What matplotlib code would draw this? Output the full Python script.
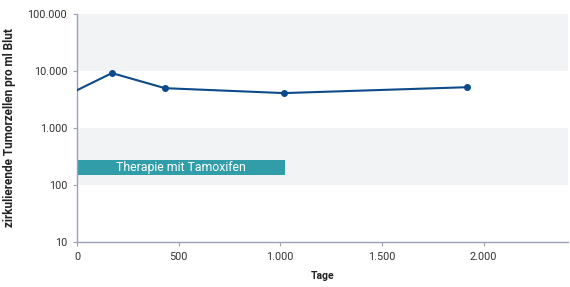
import matplotlib
matplotlib.use("Agg")
import matplotlib.pyplot as plt
from matplotlib.ticker import FixedLocator, FixedFormatter, NullLocator

days = [0, 172, 433, 1018, 1917]
cells = [4600, 9200, 5000, 4100, 5200]
therapy_start, therapy_end = 0, 1022
therapy_low, therapy_high = 150, 275
yticks = [10, 100, 1000, 10000, 100000]
ylabels = ["10", "100", "1.000", "10.000", "100.000"]
xticks = [0, 500, 1000, 1500, 2000]
xlabels = ["0", "500", "1.000", "1.500", "2.000"]

plt.rcParams['font.family'] = ['Roboto', 'DejaVu Sans']
fig = plt.figure(figsize=(5.7, 2.87), dpi=100)
ax = fig.add_axes([0.135, 0.157, 0.8615, 0.794])
ax.set_yscale('log')
ax.set_xlim(0, 2415)
ax.set_ylim(10, 100000)

ax.axhspan(10000, 100000, color='#f2f3f5', zorder=0, lw=0)
ax.axhspan(100, 1000, color='#f2f3f5', zorder=0, lw=0)

ax.fill_between([therapy_start, therapy_end], therapy_low, therapy_high, color='#319da8', lw=0, zorder=2)
ax.text((therapy_start + therapy_end) / 2, (therapy_low * therapy_high) ** 0.5, "Therapie mit Tamoxifen",
        color='white', ha='center', va='center', fontsize=8.8, zorder=3)

ax.plot(days, cells, color='#0c4a8a', lw=1.5, zorder=4)
ax.plot(days[1:], cells[1:], 'o', color='#0c4a8a', ms=4, zorder=5)

ax.yaxis.set_major_locator(FixedLocator(yticks))
ax.yaxis.set_major_formatter(FixedFormatter(ylabels))
ax.yaxis.set_minor_locator(NullLocator())
ax.set_xticks(xticks)
ax.set_xticklabels(xlabels)

for s in ['top', 'right']:
    ax.spines[s].set_visible(False)
for s in ['left', 'bottom']:
    ax.spines[s].set_color('#9aa2b4')
    ax.spines[s].set_linewidth(1.0)
ax.tick_params(axis='both', colors='#9aa2b4', labelcolor='#333333', labelsize=7.8, length=3, width=0.8, pad=4)

ax.set_xlabel("Tage", fontsize=7.5, fontweight='bold', color='#222222', labelpad=7)
ax.set_ylabel("zirkulierende Tumorzellen pro ml Blut", fontsize=8.5, fontweight='bold', color='#222222', labelpad=8)

fig.savefig("out.png", dpi=100)
